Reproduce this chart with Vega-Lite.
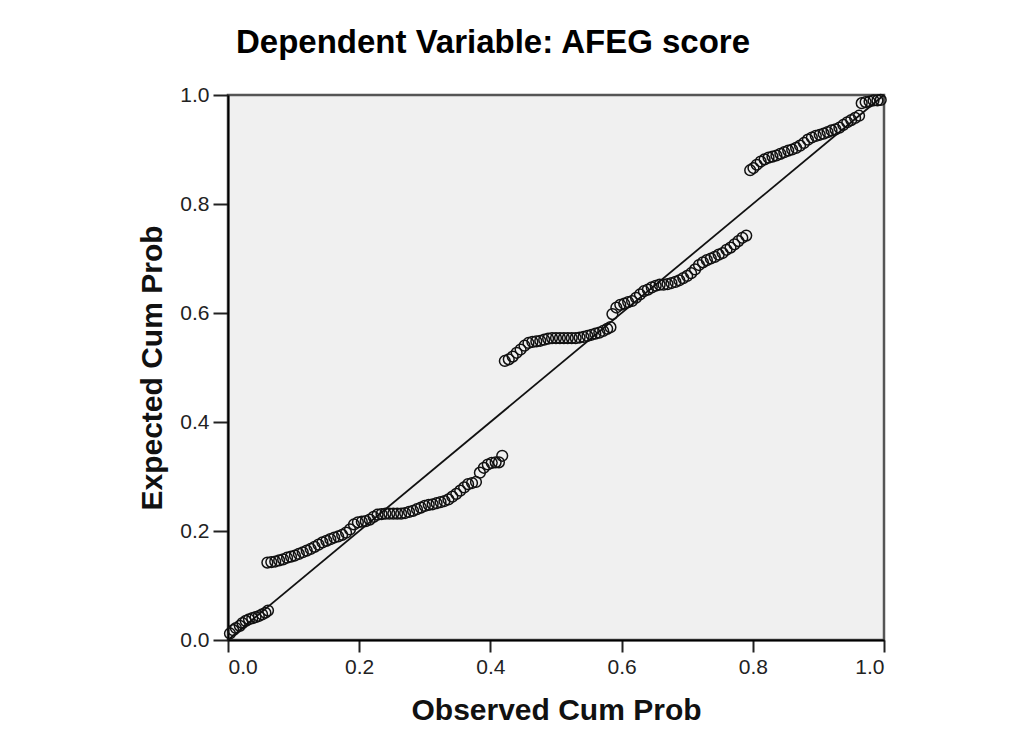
{
  "$schema": "https://vega.github.io/schema/vega-lite/v6.json",
  "autosize": {"type": "none"},
  "width": 656,
  "height": 545,
  "padding": {"left": 228, "top": 95, "right": 129, "bottom": 106},
  "background": "white",
  "title": {
    "text": "Dependent Variable: AFEG score",
    "font": "Liberation Sans",
    "fontSize": 33,
    "fontWeight": "bold",
    "color": "#000",
    "anchor": "middle",
    "dx": -63,
    "offset": 24
  },
  "config": {
    "view": {"fill": "#f0f0f0", "stroke": "#555", "strokeWidth": 2.5},
    "axis": {
      "grid": false,
      "domainColor": "#000",
      "domainWidth": 2,
      "tickColor": "#222",
      "tickWidth": 2,
      "labelFont": "Liberation Sans",
      "labelFontSize": 21,
      "labelColor": "#222",
      "titleFont": "Liberation Sans",
      "titleFontSize": 30,
      "titleFontWeight": "bold",
      "titleColor": "#111"
    }
  },
  "layer": [
    {
      "data": {"values": [{"o": 0, "e": 0}, {"o": 1, "e": 1}]},
      "mark": {"type": "line", "color": "#111", "strokeWidth": 1.8},
      "encoding": {
        "x": {"field": "o", "type": "quantitative"},
        "y": {"field": "e", "type": "quantitative"}
      }
    },
    {
      "data": {"values": [
        {"o":0.003,"e":0.012},{"o":0.008,"e":0.018},{"o":0.012,"e":0.022},{"o":0.018,"e":0.026},{"o":0.022,"e":0.031},{"o":0.027,"e":0.035},{"o":0.032,"e":0.038},{"o":0.037,"e":0.04},{"o":0.042,"e":0.042},{"o":0.047,"e":0.044},{"o":0.052,"e":0.047},{"o":0.057,"e":0.05},{"o":0.061,"e":0.054},
        {"o":0.06,"e":0.142},{"o":0.066,"e":0.143},{"o":0.072,"e":0.144},{"o":0.078,"e":0.146},{"o":0.084,"e":0.148},{"o":0.09,"e":0.151},{"o":0.096,"e":0.153},{"o":0.102,"e":0.155},{"o":0.108,"e":0.158},{"o":0.114,"e":0.161},{"o":0.12,"e":0.164},{"o":0.126,"e":0.167},{"o":0.132,"e":0.171},{"o":0.138,"e":0.175},{"o":0.144,"e":0.179},{"o":0.15,"e":0.182},{"o":0.156,"e":0.185},{"o":0.162,"e":0.188},{"o":0.168,"e":0.19},{"o":0.174,"e":0.193},{"o":0.18,"e":0.197},{"o":0.186,"e":0.203},{"o":0.192,"e":0.212},{"o":0.198,"e":0.216},{"o":0.204,"e":0.217},{"o":0.21,"e":0.218},{"o":0.216,"e":0.221},{"o":0.222,"e":0.226},{"o":0.228,"e":0.23},{"o":0.234,"e":0.231},{"o":0.24,"e":0.232},{"o":0.246,"e":0.232},{"o":0.252,"e":0.232},{"o":0.258,"e":0.232},{"o":0.264,"e":0.232},{"o":0.27,"e":0.233},{"o":0.276,"e":0.235},{"o":0.282,"e":0.237},{"o":0.288,"e":0.24},{"o":0.294,"e":0.243},{"o":0.3,"e":0.246},{"o":0.306,"e":0.248},{"o":0.312,"e":0.249},{"o":0.318,"e":0.251},{"o":0.324,"e":0.253},{"o":0.33,"e":0.255},{"o":0.336,"e":0.258},{"o":0.342,"e":0.263},{"o":0.348,"e":0.268},{"o":0.354,"e":0.274},{"o":0.36,"e":0.28},{"o":0.366,"e":0.286},{"o":0.372,"e":0.288},{"o":0.378,"e":0.29},{"o":0.384,"e":0.307},{"o":0.39,"e":0.316},{"o":0.396,"e":0.322},{"o":0.402,"e":0.325},{"o":0.408,"e":0.326},{"o":0.413,"e":0.326},{"o":0.418,"e":0.338},
        {"o":0.422,"e":0.512},{"o":0.428,"e":0.515},{"o":0.434,"e":0.52},{"o":0.44,"e":0.527},{"o":0.446,"e":0.533},{"o":0.452,"e":0.54},{"o":0.458,"e":0.545},{"o":0.464,"e":0.547},{"o":0.47,"e":0.548},{"o":0.476,"e":0.549},{"o":0.482,"e":0.551},{"o":0.488,"e":0.553},{"o":0.494,"e":0.554},{"o":0.5,"e":0.554},{"o":0.506,"e":0.554},{"o":0.512,"e":0.554},{"o":0.518,"e":0.554},{"o":0.524,"e":0.554},{"o":0.53,"e":0.554},{"o":0.536,"e":0.555},{"o":0.542,"e":0.556},{"o":0.548,"e":0.558},{"o":0.554,"e":0.56},{"o":0.56,"e":0.562},{"o":0.566,"e":0.564},{"o":0.572,"e":0.567},{"o":0.578,"e":0.571},{"o":0.583,"e":0.574},
        {"o":0.586,"e":0.598},{"o":0.592,"e":0.61},{"o":0.598,"e":0.615},{"o":0.604,"e":0.617},{"o":0.61,"e":0.62},{"o":0.616,"e":0.622},{"o":0.622,"e":0.628},{"o":0.628,"e":0.634},{"o":0.634,"e":0.64},{"o":0.64,"e":0.643},{"o":0.646,"e":0.647},{"o":0.652,"e":0.65},{"o":0.658,"e":0.652},{"o":0.664,"e":0.652},{"o":0.67,"e":0.653},{"o":0.676,"e":0.655},{"o":0.682,"e":0.657},{"o":0.688,"e":0.66},{"o":0.694,"e":0.664},{"o":0.7,"e":0.668},{"o":0.706,"e":0.673},{"o":0.712,"e":0.68},{"o":0.718,"e":0.688},{"o":0.724,"e":0.693},{"o":0.73,"e":0.697},{"o":0.736,"e":0.7},{"o":0.742,"e":0.703},{"o":0.748,"e":0.707},{"o":0.754,"e":0.71},{"o":0.76,"e":0.716},{"o":0.766,"e":0.72},{"o":0.772,"e":0.726},{"o":0.778,"e":0.732},{"o":0.784,"e":0.738},{"o":0.79,"e":0.742},
        {"o":0.796,"e":0.862},{"o":0.801,"e":0.866},{"o":0.806,"e":0.872},{"o":0.812,"e":0.878},{"o":0.818,"e":0.882},{"o":0.824,"e":0.885},{"o":0.83,"e":0.887},{"o":0.836,"e":0.889},{"o":0.842,"e":0.892},{"o":0.848,"e":0.895},{"o":0.854,"e":0.898},{"o":0.86,"e":0.9},{"o":0.866,"e":0.903},{"o":0.872,"e":0.907},{"o":0.878,"e":0.912},{"o":0.884,"e":0.918},{"o":0.89,"e":0.922},{"o":0.896,"e":0.925},{"o":0.902,"e":0.927},{"o":0.908,"e":0.929},{"o":0.914,"e":0.932},{"o":0.92,"e":0.935},{"o":0.926,"e":0.937},{"o":0.932,"e":0.94},{"o":0.938,"e":0.945},{"o":0.944,"e":0.95},{"o":0.95,"e":0.954},{"o":0.956,"e":0.958},{"o":0.962,"e":0.962},{"o":0.966,"e":0.985},{"o":0.972,"e":0.987},{"o":0.978,"e":0.988},{"o":0.984,"e":0.99},{"o":0.99,"e":0.99},{"o":0.995,"e":0.991}
      ]},
      "mark": {"type": "point", "shape": "circle", "filled": false, "stroke": "#111", "strokeWidth": 1.5, "size": 115, "opacity": 1},
      "encoding": {
        "x": {
          "field": "o", "type": "quantitative",
          "scale": {"domain": [0, 1], "nice": false},
          "axis": {"title": "Observed Cum Prob", "values": [0, 0.2, 0.4, 0.6, 0.8, 1], "format": ".1f", "tickSize": 12, "labelPadding": 4, "titlePadding": 18}
        },
        "y": {
          "field": "e", "type": "quantitative",
          "scale": {"domain": [0, 1], "nice": false},
          "axis": {"title": "Expected Cum Prob", "values": [0, 0.2, 0.4, 0.6, 0.8, 1], "format": ".1f", "tickSize": 15, "labelPadding": 4, "titlePadding": 12}
        }
      }
    }
  ]
}
